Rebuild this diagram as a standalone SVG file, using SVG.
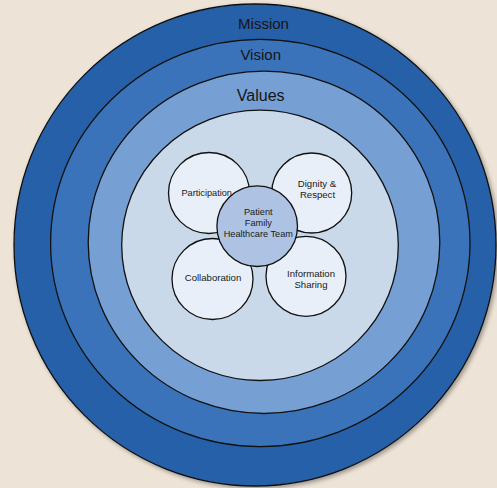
<svg xmlns="http://www.w3.org/2000/svg" width="497" height="488" viewBox="0 0 497 488">
  <defs>
    <filter id="shadow" x="-10%" y="-10%" width="120%" height="120%">
      <feDropShadow dx="2" dy="2" stdDeviation="2" flood-color="#000" flood-opacity="0.35"/>
    </filter>
  </defs>
  <style>
    .ring { stroke: #111; stroke-width: 1.3; }
    .petal { fill: #e8eff8; stroke: #111; stroke-width: 1.3; }
    .hub { fill: #aec3e3; stroke: #111; stroke-width: 1.3; }
    .big { font-family: "Liberation Sans", Arial, sans-serif; font-size: 15px; fill: #151515; text-anchor: middle; }
    .small { font-family: "Liberation Sans", Arial, sans-serif; font-size: 9.6px; fill: #1a1a1a; text-anchor: middle; }
    .hubtext { font-size: 9.2px; }
  </style>
  <rect width="497" height="488" fill="#ede3d6"/>

  <g id="mission">
    <ellipse class="ring" cx="255" cy="245" rx="241" ry="241" fill="#2560a8" filter="url(#shadow)"/>
    <text class="big" x="263.5" y="29">Mission</text>
  </g>
  <g id="vision">
    <ellipse class="ring" cx="260.3" cy="243" rx="209.7" ry="203.7" fill="#3a73b9"/>
    <text class="big" x="260.7" y="59.5">Vision</text>
  </g>
  <g id="values">
    <ellipse class="ring" cx="264" cy="242.3" rx="175.8" ry="171.2" fill="#769fd4"/>
    <text class="big" x="260.7" y="100.7" style="font-size:16px">Values</text>
  </g>
  <g id="core">
    <ellipse class="ring" cx="260" cy="245.3" rx="138.3" ry="135.2" fill="#c9d9e9"/>
  </g>

  <g id="participation">
    <circle class="petal" cx="209" cy="193" r="40.5"/>
  </g>
  <g id="dignity">
    <circle class="petal" cx="311.7" cy="193" r="40"/>
  </g>
  <g id="collaboration">
    <circle class="petal" cx="212.5" cy="279" r="40.5"/>
  </g>
  <g id="information">
    <circle class="petal" cx="306" cy="276.3" r="40"/>
  </g>
  <g id="center">
    <circle class="hub" cx="257.2" cy="226.2" r="40.3"/>
    <text class="small hubtext" x="258.3" y="215">Patient</text>
    <text class="small hubtext" x="258.3" y="226">Family</text>
    <text class="small hubtext" x="258.3" y="236.7">Healthcare Team</text>
  </g>

  <g id="labels">
    <text class="small" x="206.7" y="195.5" style="font-size:9.2px">Participation</text>
    <text class="small" x="317" y="186.7">Dignity &amp;</text>
    <text class="small" x="317.5" y="197.7">Respect</text>
    <text class="small" x="213" y="281">Collaboration</text>
    <text class="small" x="311" y="277">Information</text>
    <text class="small" x="311" y="288.3">Sharing</text>
  </g>
</svg>
